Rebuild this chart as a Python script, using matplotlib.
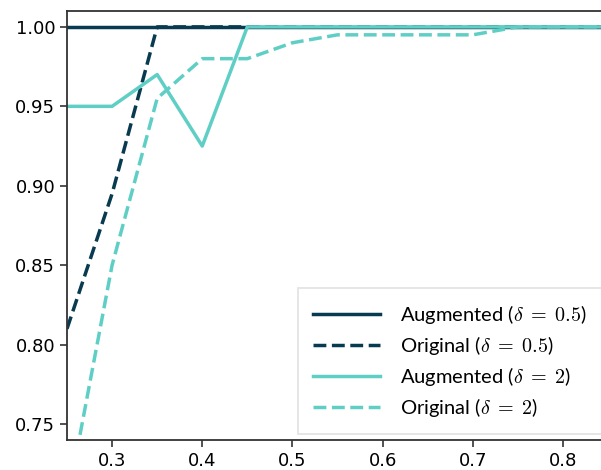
import matplotlib
matplotlib.use("Agg")
import matplotlib.pyplot as plt

x = [0.25, 0.30, 0.35, 0.40, 0.45, 0.50, 0.55, 0.60, 0.65, 0.70, 0.75, 0.80, 0.85]
aug_05 = [1.0, 1.0, 1.0, 1.0, 1.0, 1.0, 1.0, 1.0, 1.0, 1.0, 1.0, 1.0, 1.0]
orig_05 = [0.81, 0.895, 1.0, 1.0, 1.0, 1.0, 1.0, 1.0, 1.0, 1.0, 1.0, 1.0, 1.0]
aug_2 = [0.95, 0.95, 0.97, 0.925, 1.0, 1.0, 1.0, 1.0, 1.0, 1.0, 1.0, 1.0, 1.0]
orig_2 = [0.70, 0.85, 0.955, 0.98, 0.98, 0.99, 0.995, 0.995, 0.995, 0.995, 1.0, 1.0, 1.0]
labels = [r"Augmented ($\delta\;=\;0.5$)", r"Original ($\delta\;=\;0.5$)",
          r"Augmented ($\delta\;=\;2$)", r"Original ($\delta\;=\;2$)"]

dark = "#083a50"
teal = "#5fcfc6"

plt.rcParams["mathtext.fontset"] = "cm"

fig = plt.figure(figsize=(6.01, 4.70), dpi=100)
ax = fig.add_axes([67 / 601, 1 - 440 / 470, (608 - 67) / 601, (440 - 11) / 470])

lw = 2.5
ax.plot(x, aug_05, color=dark, lw=lw, ls="-", label=labels[0])
ax.plot(x, orig_05, color=dark, lw=lw, ls="--", label=labels[1])
ax.plot(x, aug_2, color=teal, lw=lw, ls="-", label=labels[2])
ax.plot(x, orig_2, color=teal, lw=lw, ls="--", label=labels[3])

ax.set_xlim(0.25, 0.85)
ax.set_ylim(0.74, 1.01)
ax.set_xticks([0.3, 0.4, 0.5, 0.6, 0.7, 0.8])
ax.set_yticks([0.75, 0.80, 0.85, 0.90, 0.95, 1.00])
ax.set_yticklabels(["0.75", "0.80", "0.85", "0.90", "0.95", "1.00"])
ax.tick_params(labelsize=13, width=1.2, length=5, color="#333333")
for s in ax.spines.values():
    s.set_linewidth(1.3)
    s.set_color("#333333")

leg = ax.legend(loc="lower right", prop={"family": "Lato", "size": 14.5},
                handlelength=3.3, handletextpad=1.0, labelspacing=0.4,
                fancybox=False, borderpad=0.75, borderaxespad=0.3)
leg.get_frame().set_edgecolor("#dddddd")
leg.get_frame().set_linewidth(1.3)

fig.savefig("out.png", dpi=100)
